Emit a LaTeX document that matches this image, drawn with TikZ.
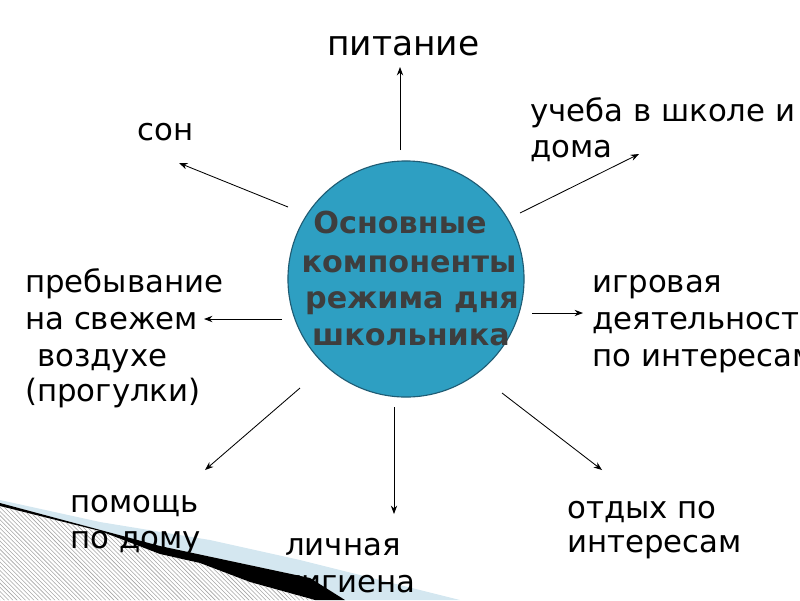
\documentclass[tikz,border=0pt]{standalone}
\usepackage{fontspec}
\setmainfont{DejaVu Sans}
\usetikzlibrary{arrows.meta,patterns}
\definecolor{circfill}{HTML}{2E9FC2}
\definecolor{circedge}{HTML}{1F5C74}
\definecolor{titlegray}{HTML}{3E3E3E}
\definecolor{bandblue}{HTML}{D4E7F0}
\begin{document}
\begin{tikzpicture}[x=0.025cm,y=-0.025cm,
  lbl/.style={anchor=base west,inner sep=0,font=\fontsize{21.9}{26}\selectfont},
  ttl/.style={anchor=base,inner sep=0,text=titlegray,font=\fontsize{21.5}{26}\selectfont\bfseries},
  arr/.style={-{Stealth[length=6pt,width=4.5pt]},line width=0.6pt}]
\useasboundingbox (0,0) rectangle (800,600);
\clip (0,0) rectangle (800,600);
% decoration bottom-left
\fill[bandblue] (0,500) -- (100,522) -- (210,540) -- (300,560) -- (460,600) -- (345,600) -- (310,578) -- (160,546) -- (0,503) -- cycle;
\fill[black] (0,503) -- (160,546) -- (310,578) -- (345,600) -- (315,600) -- (250,582) -- (200,563) -- (160,554) -- (100,531) -- (0,506) -- cycle;
\fill[pattern=north west lines,pattern color=gray!70] (0,506) -- (100,531) -- (160,554) -- (200,563) -- (250,582) -- (315,600) -- (0,600) -- cycle;
% central circle
\node[circle,draw=circedge,fill=circfill,line width=0.8pt,minimum size=5.9cm,inner sep=0] (c) at (406,279) {};
\node[ttl] (t1) at (400,233) {Основные};
\node[ttl] (t2) at (409,272) {компоненты};
\node[ttl] (t3) at (412,308) {режима дня};
\node[ttl] (t4) at (411,345) {школьника};
% labels
\node[lbl,font=\fontsize{24.5}{29}\selectfont] (pit) at (327,55) {питание};
\node[lbl] (son) at (137,140) {сон};
\node[lbl] (uch1) at (530,121) {учеба в школе и};
\node[lbl] (uch2) at (530,157) {дома};
\node[lbl] (igr1) at (592,292) {игровая};
\node[lbl] (igr2) at (592,329) {деятельность};
\node[lbl] (igr3) at (592,366) {по интересам};
\node[lbl] (pre1) at (25,292) {пребывание};
\node[lbl] (pre2) at (25,329) {на свежем};
\node[lbl] (pre3) at (37,366) {воздухе};
\node[lbl] (pre4) at (25,401) {(прогулки)};
\node[lbl] (pom1) at (70,512) {помощь};
\node[lbl] (pom2) at (70,548) {по дому};
\node[lbl] (lic1) at (285,555) {личная};
\node[lbl] (lic2) at (285,592) {гигиена};
\node[lbl] (otd1) at (567,518) {отдых по};
\node[lbl] (otd2) at (567,552) {интересам};
% arrow end points
\coordinate (a1s) at (400,150); \coordinate (a1e) at (400,67);
\coordinate (a2s) at (288,207); \coordinate (a2e) at (179,163);
\coordinate (a3s) at (520,213); \coordinate (a3e) at (639,154);
\coordinate (a4s) at (532,313); \coordinate (a4e) at (583,313);
\coordinate (a5s) at (282,319); \coordinate (a5e) at (204,319);
\coordinate (a6s) at (300,388); \coordinate (a6e) at (205,470);
\coordinate (a7s) at (394,407); \coordinate (a7e) at (394,514);
\coordinate (a8s) at (502,393); \coordinate (a8e) at (602,470);
\draw[arr] (a1s) -- (a1e);
\draw[arr] (a2s) -- (a2e);
\draw[arr] (a3s) -- (a3e);
\draw[arr] (a4s) -- (a4e);
\draw[arr] (a5s) -- (a5e);
\draw[arr] (a6s) -- (a6e);
\draw[arr] (a7s) -- (a7e);
\draw[arr] (a8s) -- (a8e);
\end{tikzpicture}
\end{document}
